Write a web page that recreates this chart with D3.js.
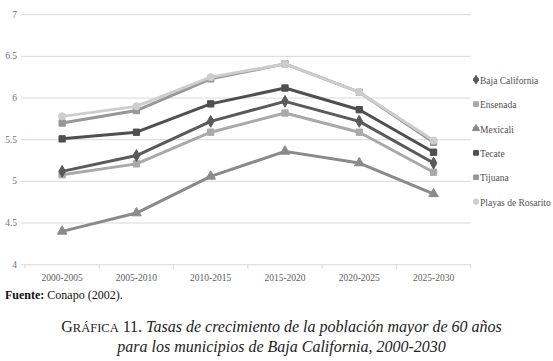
<!DOCTYPE html>
<html><head><meta charset="utf-8">
<script src="https://cdn.jsdelivr.net/npm/d3@7/dist/d3.min.js"></script>
<style>body{margin:0;background:#fff}svg{display:block}text{font-family:'Liberation Serif','DejaVu Serif',serif}</style>
</head><body>
<svg id="c" width="553" height="361"></svg>
<script>
const categories = ["2000-2005","2005-2010","2010-2015","2015-2020","2020-2025","2025-2030"];
const yTicks = [4, 4.5, 5, 5.5, 6, 6.5, 7];
const seriesNames = ["Baja California","Ensenada","Mexicali","Tecate","Tijuana","Playas de Rosarito"];
const bajaCalifornia = [5.12, 5.31, 5.72, 5.96, 5.72, 5.22];
const ensenada = [5.08, 5.21, 5.59, 5.82, 5.59, 5.11];
const mexicali = [4.40, 4.62, 5.06, 5.36, 5.22, 4.85];
const tecate = [5.51, 5.59, 5.93, 6.12, 5.86, 5.35];
const tijuana = [5.70, 5.85, 6.23, 6.41, 6.07, 5.47];
const playasDeRosarito = [5.78, 5.90, 6.25, 6.41, 6.07, 5.49];

const seriesValues = [bajaCalifornia, ensenada, mexicali, tecate, tijuana, playasDeRosarito];
const colors = ["#5a5a5a","#a9a9a9","#8a8a8a","#4f4f4f","#979797","#cdcdcd"];
const symbols = [d3.symbolDiamond, d3.symbolSquare, d3.symbolTriangle, d3.symbolSquare, d3.symbolSquare, d3.symbolCircle];
const symSizes = [40, 40, 40, 40, 40, 40];

const svg = d3.select("#c");
const pLeft = 25, pRight = 470.7, pTop = 14.7, pBottom = 264.7;
const x = d3.scaleBand().domain(categories).range([pLeft, pRight]);
const y = d3.scaleLinear().domain([4, 7]).range([pBottom, pTop]);

// gridlines
svg.append("g").selectAll("line").data(yTicks).join("line")
  .attr("x1", pLeft - 4).attr("x2", pRight)
  .attr("y1", d => y(d)).attr("y2", d => y(d))
  .attr("stroke", "#d9d9d9").attr("stroke-width", 1);

// y labels
svg.append("g").selectAll("text").data(yTicks).join("text")
  .attr("x", 17).attr("y", d => y(d) + 3)
  .attr("text-anchor", "end")
  .attr("font-size", 9.5)
  .attr("fill", "#707070").text(d => d);

// x axis ticks
const bounds = categories.map((c) => x(c)).concat([pRight]);
svg.append("g").selectAll("line").data(bounds).join("line")
  .attr("x1", d => d).attr("x2", d => d)
  .attr("y1", pBottom).attr("y2", pBottom + 4)
  .attr("stroke", "#d9d9d9");

svg.append("g").selectAll("text").data(categories).join("text")
  .attr("x", d => x(d) + x.bandwidth() / 2).attr("y", pBottom + 16.5)
  .attr("text-anchor", "middle")
  .attr("font-size", 9.5)
  .attr("fill", "#606060").text(d => d);

// lines
const line = d3.line().x((d, i) => x(categories[i]) + x.bandwidth() / 2).y(d => y(d));
const order = [2, 1, 0, 3, 4, 5];
order.forEach(k => {
  const g = svg.append("g");
  g.append("path").datum(seriesValues[k]).attr("d", line)
    .attr("fill", "none").attr("stroke", colors[k]).attr("stroke-width", 3)
    .attr("stroke-linejoin", "round");
  g.selectAll("path.m").data(seriesValues[k]).join("path").attr("class", "m")
    .attr("transform", (d, i) => `translate(${x(categories[i]) + x.bandwidth() / 2},${y(d)})`)
    .attr("d", d3.symbol().type(symbols[k]).size(symSizes[k]))
    .attr("fill", colors[k]).attr("stroke", colors[k]).attr("stroke-width", 1);
});

// legend
const lg = svg.append("g");
seriesNames.forEach((n, k) => {
  const ly = 80.7 + k * 24.4;
  lg.append("path").attr("transform", `translate(476,${ly - 1})`)
    .attr("d", d3.symbol().type(symbols[k]).size(22))
    .attr("fill", colors[k]).attr("stroke", colors[k]);
  lg.append("line").attr("x1", 473).attr("x2", 479).attr("y1", ly - 1).attr("y2", ly - 1)
    .attr("stroke", colors[k]).attr("stroke-width", 2.5);
  lg.append("text").attr("x", 480).attr("y", ly + 3)
    .attr("font-size", 9.5)
    .attr("fill", "#505050").text(n);
});

// source
const src = svg.append("text").attr("x", 5).attr("y", 298.5)
  .attr("font-size", 12).attr("fill", "#111");
src.append("tspan").attr("font-weight", "bold").text("Fuente:");
src.append("tspan").text(" Conapo (2002).");

// caption
const cap1 = svg.append("text").attr("x", 281.5).attr("y", 331.7).attr("text-anchor", "middle")
  .attr("font-size", 16).attr("fill", "#222");
cap1.append("tspan").text("G");
cap1.append("tspan").attr("font-size", 12.5).text("RÁFICA");
cap1.append("tspan").text(" 11. ");
cap1.append("tspan").attr("font-style", "italic").text("Tasas de crecimiento de la población mayor de 60 años");
svg.append("text").attr("x", 281.5).attr("y", 351.7).attr("text-anchor", "middle")
  .attr("font-size", 16).attr("fill", "#222")
  .attr("font-style", "italic").text("para los municipios de Baja California, 2000-2030");
</script>
</body></html>
